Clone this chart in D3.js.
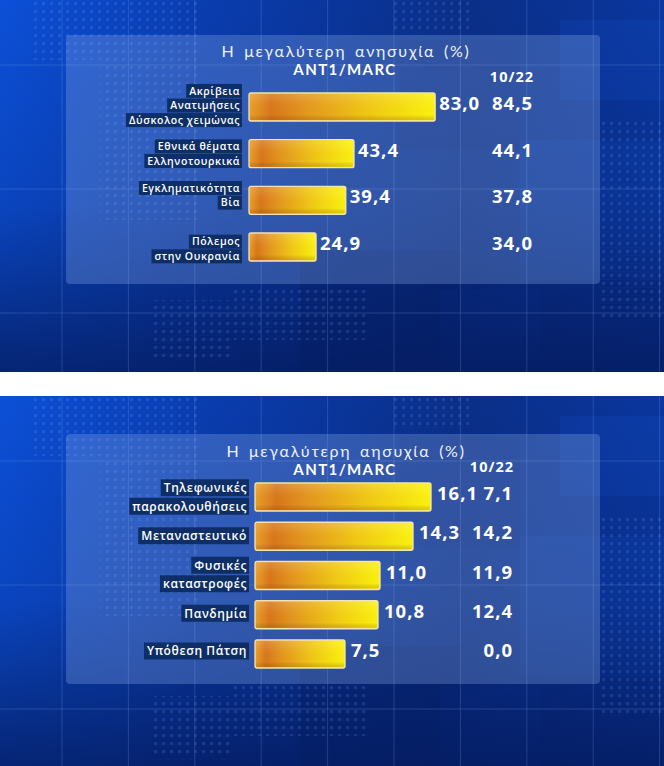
<!DOCTYPE html>
<html><head><meta charset="utf-8">
<script src="https://cdn.jsdelivr.net/npm/d3@7"></script>
<style>html,body{margin:0;padding:0;background:#fff;}svg{display:block;}</style>
</head><body>
<script>
// ---------- DATA ----------
const topTitle = "Η μεγαλύτερη ανησυχία (%)";
const topSource = "ANT1/MARC";
const topPrevLabel = "10/22";
const topCategories = [["Ακρίβεια","Ανατιμήσεις","Δύσκολος χειμώνας"],["Εθνικά θέματα","Ελληνοτουρκικά"],["Εγκληματικότητα","Βία"],["Πόλεμος","στην Ουκρανία"]];
const topCurrent = [83.0, 43.4, 39.4, 24.9];
const topPrevious = [84.5, 44.1, 37.8, 34.0];

const botTitle = "Η μεγαλύτερη αησυχία (%)";
const botSource = "ANT1/MARC";
const botPrevLabel = "10/22";
const botCategories = [["Τηλεφωνικές","παρακολουθήσεις"],["Μεταναστευτικό"],["Φυσικές","καταστροφές"],["Πανδημία"],["Υπόθεση Πάτση"]];
const botCurrent = [16.1, 14.3, 11.0, 10.8, 7.5];
const botPrevious = [7.1, 14.2, 11.9, 12.4, 0.0];

const fmt = v => v.toFixed(1).replace(".", ",");

// ---------- SVG ----------
const W = 664, H = 766;
const svg = d3.select("body").append("svg").attr("width", W).attr("height", H);
const defs = svg.append("defs");

const bgH = defs.append("linearGradient").attr("id","bgH").attr("x1","0").attr("x2","1").attr("y1","0").attr("y2","0");
bgH.append("stop").attr("offset","0").attr("stop-color","#0c50d8");
bgH.append("stop").attr("offset","0.3").attr("stop-color","#0a3db0");
bgH.append("stop").attr("offset","0.7").attr("stop-color","#0a2f88");
bgH.append("stop").attr("offset","1").attr("stop-color","#0a369e");
const bgV = defs.append("linearGradient").attr("id","bgV").attr("x1","0").attr("x2","0").attr("y1","0").attr("y2","1");
bgV.append("stop").attr("offset","0").attr("stop-color","#041a5c").attr("stop-opacity",0);
bgV.append("stop").attr("offset","0.55").attr("stop-color","#041a5c").attr("stop-opacity",0.2);
bgV.append("stop").attr("offset","1").attr("stop-color","#041a5c").attr("stop-opacity",0.8);

const barG = defs.append("linearGradient").attr("id","barG").attr("x1","0").attr("x2","1").attr("y1","0").attr("y2","0");
[["0","#e8a028"],["0.12","#d8761a"],["0.3","#e3961e"],["0.65","#f1c914"],["1","#fbf20e"]].forEach(s=>barG.append("stop").attr("offset",s[0]).attr("stop-color",s[1]));
const barGloss = defs.append("linearGradient").attr("id","barGloss").attr("x1","0").attr("x2","0").attr("y1","0").attr("y2","1");
barGloss.append("stop").attr("offset","0").attr("stop-color","#fff").attr("stop-opacity",0.15);
barGloss.append("stop").attr("offset","0.35").attr("stop-color","#fff").attr("stop-opacity",0.03);
barGloss.append("stop").attr("offset","0.8").attr("stop-color","#000").attr("stop-opacity",0.0);
barGloss.append("stop").attr("offset","1").attr("stop-color","#7a3a00").attr("stop-opacity",0.22);

const dots = defs.append("pattern").attr("id","dots").attr("width",8).attr("height",8).attr("patternUnits","userSpaceOnUse");
dots.append("rect").attr("x",2).attr("y",2).attr("width",3).attr("height",3).attr("fill","#8fb4ff").attr("opacity",0.3);

function background(y0, h) {
  const g = svg.append("g").attr("transform", `translate(0,${y0})`);
  g.append("rect").attr("width", W).attr("height", h).attr("fill", "url(#bgH)");
  const blocks = [[400,40,120,110,"#0a2a80",0.45],[520,140,144,140,"#0d4fc8",0.2],[300,250,160,120,"#06246e",0.4],
                  [560,20,104,80,"#1456d8",0.18],[440,290,100,80,"#0a40b8",0.2],[0,250,130,120,"#0d4ed0",0.25]];
  blocks.forEach(b => g.append("rect").attr("x",b[0]).attr("y",b[1]).attr("width",b[2]).attr("height",b[3]).attr("fill",b[4]).attr("opacity",b[5]));
  g.append("rect").attr("width", W).attr("height", h).attr("fill", "url(#bgV)");
  const patches = [[30,0,170,60],[100,60,100,160],[230,290,140,50],[600,120,64,200],[390,0,80,30],[150,300,80,60]];
  patches.forEach(p => g.append("rect").attr("x",p[0]).attr("y",p[1]).attr("width",p[2]).attr("height",p[3]).attr("fill","url(#dots)").attr("opacity",0.5));
  d3.range(62, W, 66.4).forEach(x => g.append("line").attr("x1",x).attr("x2",x).attr("y1",0).attr("y2",h).attr("stroke","#9cc0ff").attr("stroke-opacity",0.2).attr("stroke-width",1));
  [65, 189, 313].forEach(y => g.append("line").attr("x1",0).attr("x2",W).attr("y1",y).attr("y2",y).attr("stroke","#9cc0ff").attr("stroke-opacity",0.2).attr("stroke-width",1));
  return g;
}

function chart(cfg) {
  const g = svg.append("g");
  g.append("rect").attr("x",66).attr("y",cfg.panelY).attr("width",534).attr("height",cfg.panelH).attr("rx",4)
    .attr("fill","#8fb0ec").attr("fill-opacity",0.3);
  g.append("text").attr("x",346).attr("y",cfg.titleY).attr("text-anchor","middle")
    .attr("font-family","Lato, sans-serif").attr("font-weight",400).attr("font-size",16)
    .attr("letter-spacing",1.7).attr("word-spacing",3).attr("fill","#eef2fb").text(cfg.title);
  g.append("text").attr("x",345).attr("y",cfg.sourceY).attr("text-anchor","middle")
    .attr("font-family","Lato, sans-serif").attr("font-weight",700).attr("font-size",15)
    .attr("letter-spacing",1.4).attr("fill","#ffffff").text(cfg.source);
  g.append("text").attr("x",cfg.prevX+1).attr("y",cfg.prevLabelY).attr("text-anchor","end")
    .attr("font-family","'Open Sans', sans-serif").attr("font-weight",700).attr("font-size",14.5)
    .attr("letter-spacing",1).attr("fill","#ffffff").text(cfg.prevLabel);

  const idx = d3.range(cfg.current.length);
  const y = d3.scalePoint().domain(idx).range(cfg.yRange);
  const x = d3.scaleLinear().domain(cfg.xDomain).range(cfg.xRange);
  const bh = 28;

  const bars = g.selectAll("g.bar").data(idx).join("g").attr("class","bar");
  bars.append("rect").attr("x", cfg.barLeft).attr("y", i => y(i) - bh/2)
    .attr("width", i => x(cfg.current[i]) - cfg.barLeft).attr("height", bh).attr("rx", 2)
    .attr("fill", "url(#barG)").attr("stroke", "#f4e4b4").attr("stroke-width", 1.3);
  bars.append("rect").attr("x", cfg.barLeft+1).attr("y", i => y(i) - bh/2 + 1)
    .attr("width", i => x(cfg.current[i]) - cfg.barLeft - 2).attr("height", bh - 2).attr("rx", 1.5)
    .attr("fill", "url(#barGloss)");

  g.selectAll("text.cur").data(idx).join("text").attr("class","cur")
    .attr("x", i => x(cfg.current[i]) + cfg.valGap).attr("y", i => y(i) + 3)
    .attr("font-family","'Open Sans', sans-serif").attr("font-weight",700).attr("font-size",18.5)
    .attr("letter-spacing",1).attr("fill","#ffffff").text(i => fmt(cfg.current[i]));
  g.selectAll("text.prev").data(idx).join("text").attr("class","prev")
    .attr("x", cfg.prevX).attr("y", i => y(i) + 3).attr("text-anchor","end")
    .attr("font-family","'Open Sans', sans-serif").attr("font-weight",700).attr("font-size",18.5)
    .attr("letter-spacing",1).attr("fill","#ffffff").text(i => fmt(cfg.previous[i]));

  idx.forEach(i => {
    const lines = cfg.categories[i];
    const n = lines.length;
    lines.forEach((ln, j) => {
      const cy = y(i) + cfg.labelShift[i] + (j - (n-1)/2) * cfg.lineGap;
      const t = g.append("text").attr("x", cfg.labelRight).attr("y", cy + cfg.labelSize*0.36)
        .attr("text-anchor","end").attr("font-family","'Open Sans', sans-serif").attr("font-weight",600)
        .attr("font-size",cfg.labelSize).attr("letter-spacing",0.6).attr("fill","#ffffff").text(ln);
      const w = t.node().getComputedTextLength();
      g.insert("rect", () => t.node()).attr("x", cfg.labelRight - w - 3).attr("y", cy - cfg.boxH/2)
        .attr("width", w + 5).attr("height", cfg.boxH).attr("fill","#0b2a5f").attr("fill-opacity",0.92);
    });
  });
}

background(0, 372);
chart({
  panelY: 35, panelH: 249, titleY: 57, sourceY: 75, prevLabelY: 82, prevX: 533,
  title: topTitle, source: topSource, prevLabel: topPrevLabel,
  categories: topCategories, current: topCurrent, previous: topPrevious,
  yRange: [107, 247], xDomain: [0, 100], xRange: [265, 470], barLeft: 249, valGap: 4,
  labelRight: 240, labelSize: 10.5, lineGap: 14.6, boxH: 14, labelShift: [-1.5, 0, -5, 2]
});
svg.append("rect").attr("x",0).attr("y",372).attr("width",W).attr("height",24).attr("fill","#ffffff");
background(396, 370);
chart({
  panelY: 434, panelH: 250, titleY: 457, sourceY: 475, prevLabelY: 472, prevX: 513,
  title: botTitle, source: botSource, prevLabel: botPrevLabel,
  categories: botCategories, current: botCurrent, previous: botPrevious,
  yRange: [497, 654], xDomain: [0, 20], xRange: [270, 470], barLeft: 255, valGap: 6,
  labelRight: 247, labelSize: 12, lineGap: 18.5, boxH: 17, labelShift: [0, -0.5, -1, -1.5, -3]
});
</script>
</body></html>
